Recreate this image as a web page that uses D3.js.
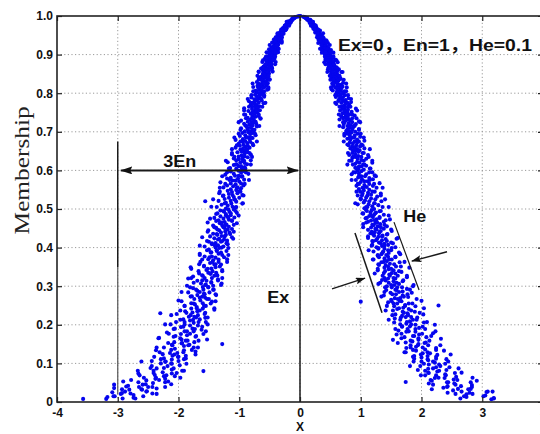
<!doctype html>
<html lang="en">
<head>
<meta charset="utf-8">
<title>Cloud model drops</title>
<script src="https://cdn.jsdelivr.net/npm/d3@7"></script>
<style>
  body { margin: 0; background: #fff; }
  svg { display: block; }
</style>
</head>
<body>
<svg id="chart" width="540" height="434"></svg>
<script>
// axis ticks
var xTicks = [-4, -3, -2, -1, 0, 1, 2, 3, 4];
var xTickLabels = ["-4", "-3", "-2", "-1", "0", "1", "2", "3", "4"];
var yTicks = [0, 0.1, 0.2, 0.3, 0.4, 0.5, 0.6, 0.7, 0.8, 0.9, 1.0];
var yTickLabels = ["0", "0.1", "0.2", "0.3", "0.4", "0.5", "0.6", "0.7", "0.8", "0.9", "1.0"];
var xLabel = "X";
var yLabel = "Membership";
var paramText = "Ex=0，En=1，He=0.1";

// cloud drops, one row per membership level: [membership, x, x, ...]
var dropsTop = [
  [1.000,0.01,-0.01],
  [0.998,0.06],[0.997,0.07],[0.996,0.10],[0.995,0.10,0.12],[0.993,0.11,0.12],[0.990,0.12,0.14,0.17],[0.987,0.15,0.18],[0.985,0.16,0.18,0.21],[0.982,0.19,0.16],[0.980,0.19,0.22,0.20],[0.977,0.19,0.23],[0.975,0.23,0.26],[0.972,0.21,0.24],[0.970,0.27,0.23],[0.967,0.26,0.22],[0.965,0.28,0.25],[0.962,0.28,0.33],[0.960,0.26,0.31],[0.957,0.30,0.25],[0.955,0.32,0.29],[0.952,0.31,0.36],[0.950,0.29,0.35],
  [0.999,-0.03],[0.998,-0.05],[0.997,-0.08],[0.996,-0.09],[0.994,-0.11,-0.10],[0.992,-0.13],[0.991,-0.12],[0.989,-0.15,-0.13],[0.986,-0.16,-0.19],[0.984,-0.17,-0.15],[0.983,-0.20],[0.981,-0.18,-0.21],[0.979,-0.19,-0.17],[0.978,-0.23],[0.976,-0.22,-0.20],[0.974,-0.25],[0.973,-0.22],[0.971,-0.26,-0.24],[0.969,-0.28],[0.968,-0.22],[0.966,-0.26,-0.29],[0.964,-0.27],[0.963,-0.24],[0.961,-0.30,-0.27],[0.959,-0.32],[0.958,-0.28],[0.956,-0.34,-0.30],[0.954,-0.27],[0.953,-0.33],[0.951,-0.30,-0.37],[0.949,-0.32],
  [0.948,0.33,0.30],[0.945,0.36,0.33],[0.942,0.39,0.30],[0.940,0.36,0.33],[0.937,0.43,0.31],[0.935,0.39,0.36],[0.932,0.41,0.34],[0.930,0.46,0.30],[0.927,0.40,0.37],[0.925,0.42,0.36],[0.922,0.40,0.37],[0.920,0.44,0.40],[0.917,0.47,0.37],[0.915,0.43,0.40],[0.912,0.51,0.36],[0.910,0.46,0.43],[0.907,0.49,0.40],[0.905,0.55,0.36],[0.902,0.46,0.44],[0.900,0.49,0.41],
  [0.947,-0.36,-0.33],[0.944,-0.39,-0.30],[0.941,-0.36,-0.33],[0.939,-0.43,-0.31],[0.936,-0.39,-0.36],[0.934,-0.41,-0.34],[0.931,-0.46,-0.30],[0.929,-0.40,-0.37],[0.926,-0.42,-0.36],[0.924,-0.40,-0.37],[0.921,-0.44,-0.40],[0.919,-0.47,-0.37],[0.916,-0.43,-0.40],[0.914,-0.51,-0.36],[0.911,-0.46,-0.43],[0.909,-0.49,-0.40],[0.906,-0.55,-0.36],[0.904,-0.46,-0.44],[0.901,-0.49,-0.41],[0.899,-0.46,-0.43],
  [0.898,0.46,0.43],[0.895,0.51,0.46],[0.892,0.54,0.42],[0.890,0.50,0.46],[0.887,0.58,0.42],[0.885,0.52,0.49],[0.882,0.55,0.46],[0.880,0.62,0.40],[0.877,0.52,0.49],[0.875,0.55,0.47],[0.872,0.52,0.49],[0.870,0.57,0.51],[0.867,0.60,0.47],[0.865,0.56,0.51],[0.862,0.64,0.46],[0.860,0.58,0.54],[0.857,0.61,0.51],[0.855,0.68,0.45],[0.852,0.58,0.54],[0.850,0.61,0.51],
  [0.897,-0.51,-0.46],[0.894,-0.54,-0.42],[0.891,-0.50,-0.46],[0.889,-0.58,-0.42],[0.886,-0.52,-0.49],[0.884,-0.55,-0.46],[0.881,-0.62,-0.40],[0.879,-0.52,-0.49],[0.876,-0.55,-0.47],[0.874,-0.52,-0.49],[0.871,-0.57,-0.51],[0.869,-0.60,-0.47],[0.866,-0.56,-0.51],[0.864,-0.64,-0.46],[0.861,-0.58,-0.54],[0.859,-0.61,-0.51],[0.856,-0.68,-0.45],[0.854,-0.58,-0.54],[0.851,-0.61,-0.51],[0.849,-0.55,-0.57],
  [0.848,0.55,0.57],[0.845,0.61,0.54],[0.842,0.52,0.63],[0.840,0.66,0.57],[0.837,0.60,0.67],[0.835,0.50,0.53],[0.832,0.63,0.62],[0.830,0.56,0.58],[0.827,0.71,0.61],[0.825,0.61,0.53],[0.822,0.68,0.66],[0.820,0.55,0.62],[0.817,0.64,0.70],[0.815,0.77,0.58],[0.812,0.61,0.66],[0.810,0.67,0.52],[0.807,0.54,0.67],[0.805,0.73,0.63],[0.802,0.64,0.71],[0.800,0.71,0.60],
  [0.847,-0.61,-0.54],[0.844,-0.52,-0.63],[0.841,-0.66,-0.57],[0.839,-0.60,-0.67],[0.836,-0.50,-0.53],[0.834,-0.63,-0.62],[0.831,-0.56,-0.58],[0.829,-0.71,-0.61],[0.826,-0.61,-0.53],[0.824,-0.68,-0.66],[0.821,-0.55,-0.62],[0.819,-0.64,-0.70],[0.816,-0.77,-0.58],[0.814,-0.61,-0.66],[0.811,-0.67,-0.52],[0.809,-0.54,-0.67],[0.806,-0.73,-0.63],[0.804,-0.64,-0.71],[0.801,-0.71,-0.60],[0.799,-0.67,-0.61],
  [0.995,0.09,0.12,-0.12,-0.09],[0.985,0.21,0.16,-0.16,-0.22],[0.975,0.18,0.25,-0.25,-0.18],[0.965,0.30,0.24,-0.23,-0.31],[0.955,0.38,0.29,-0.37,-0.29],[0.945,0.28,0.38,-0.30,-0.40],[0.935,0.44,0.33,-0.41,-0.30],[0.925,0.35,0.49,-0.38,-0.50],[0.915,0.45,0.33,-0.35,-0.46],[0.905,0.52,0.42,-0.52,-0.40],
  [0.895,0.41,0.55,-0.56,-0.41],[0.885,0.60,0.46,-0.45,-0.61],[0.875,0.42,0.56,-0.57,-0.41],[0.865,0.61,0.48,-0.46,-0.62],[0.855,0.70,0.54,-0.68,-0.54],[0.845,0.49,0.65,-0.52,-0.70],[0.835,0.72,0.55,-0.68,-0.50],[0.825,0.55,0.76,-0.59,-0.78],[0.815,0.68,0.51,-0.52,-0.69],[0.805,0.76,0.61,-0.77,-0.59]
];

var dropsMid = [
  [0.797,0.67],[0.795,0.61,0.74],[0.792,0.66],[0.790,0.71,0.59],[0.787,0.80],[0.785,0.69,0.65],[0.782,0.75],[0.780,0.63,0.71],[0.777,0.84],[0.775,0.68,0.75],[0.772,0.60],[0.770,0.74,0.81],[0.767,0.71],[0.765,0.67,0.79],[0.762,0.74],[0.760,0.92,0.70],[0.757,0.79],[0.755,0.66,0.74],[0.752,0.85],[0.750,0.73,0.78],
  [0.796,-0.61,-0.74],[0.794,-0.66],[0.791,-0.71,-0.59],[0.789,-0.80],[0.786,-0.69,-0.65],[0.784,-0.75],[0.781,-0.63,-0.71],[0.779,-0.84],[0.776,-0.68,-0.75],[0.774,-0.60],[0.771,-0.74,-0.81],[0.769,-0.71],[0.766,-0.67,-0.79],[0.764,-0.74],[0.761,-0.92,-0.70],[0.759,-0.79],[0.756,-0.66,-0.74],[0.754,-0.85],[0.751,-0.73,-0.78],[0.749,-0.70],
  [0.748,0.70],[0.745,0.81,0.75],[0.742,0.90],[0.740,0.68,0.78],[0.737,0.73],[0.735,0.86,0.79],[0.732,0.65],[0.730,0.82,0.76],[0.727,0.97],[0.725,0.73,0.86],[0.722,0.80],[0.720,0.92,0.72],[0.717,0.83],[0.715,0.78,0.90],[0.712,0.71],[0.710,0.87,0.81],[0.707,0.97],[0.705,0.78,0.86],[0.702,0.76],[0.700,0.91,0.82],
  [0.747,-0.81,-0.75],[0.744,-0.90],[0.741,-0.68,-0.78],[0.739,-0.73],[0.736,-0.86,-0.79],[0.734,-0.65],[0.731,-0.82,-0.76],[0.729,-0.97],[0.726,-0.73,-0.86],[0.724,-0.80],[0.721,-0.92,-0.72],[0.719,-0.83],[0.716,-0.78,-0.90],[0.714,-0.71],[0.711,-0.87,-0.81],[0.709,-0.97],[0.706,-0.78,-0.86],[0.704,-0.76],[0.701,-0.91,-0.82],[0.699,-0.85],
  [0.698,0.85],[0.695,0.78,0.95],[0.692,0.82],[0.690,0.90,0.73],[0.687,0.99],[0.685,0.85,0.89],[0.682,0.78],[0.680,0.94,0.83],[0.677,1.06],[0.675,0.90],[0.672,0.82,0.94],[0.670,0.87],[0.667,1.01,0.78],[0.665,0.93],[0.662,0.86,0.99],[0.660,0.90],[0.657,1.06,0.83],[0.655,0.94],[0.652,0.87,0.98],[0.650,0.91],
  [0.697,-0.78,-0.95],[0.694,-0.82],[0.691,-0.90,-0.73],[0.689,-0.99],[0.686,-0.85,-0.89],[0.684,-0.78],[0.681,-0.94,-0.83],[0.679,-1.06],[0.676,-0.90],[0.674,-0.82,-0.94],[0.671,-0.87],[0.669,-1.01,-0.78],[0.666,-0.93],[0.664,-0.86,-0.99],[0.661,-0.90],[0.659,-1.06,-0.83],[0.656,-0.94],[0.654,-0.87,-0.98],[0.651,-0.91],[0.649,-0.96],
  [0.648,0.96],[0.645,0.86,1.03],[0.642,0.91],[0.640,1.12,0.81],[0.637,0.96],[0.635,0.91,1.01],[0.632,0.86],[0.630,1.09,0.95],[0.627,1.01],[0.625,0.81,1.05],[0.622,0.94],[0.620,0.98,1.19],[0.617,0.91],[0.615,1.04,0.87],[0.612,1.09],[0.610,0.97,1.01],[0.607,0.91],[0.605,1.15,0.96],[0.602,1.05],[0.600,0.95],
  [0.647,-0.86,-1.03],[0.644,-0.91],[0.641,-1.12,-0.81],[0.639,-0.96],[0.636,-0.91,-1.01],[0.634,-0.86],[0.631,-1.09,-0.95],[0.629,-1.01],[0.626,-0.81,-1.05],[0.624,-0.94],[0.621,-0.98,-1.19],[0.619,-0.91],[0.616,-1.04,-0.87],[0.614,-1.09],[0.611,-0.97,-1.01],[0.609,-0.91],[0.606,-1.15,-0.96],[0.604,-1.05],[0.601,-0.95],[0.599,-1.01],
  [0.598,1.01],[0.595,0.91,1.14],[0.592,0.97],[0.590,1.09,0.85],[0.587,1.23],[0.585,1.01,1.07],[0.582,0.96],[0.580,1.14],[0.577,1.02,1.20],[0.575,0.92],[0.572,1.11,1.06],[0.570,1.00],[0.567,1.31],[0.565,0.97,1.14],[0.562,1.06],[0.560,1.20,0.93],[0.557,1.10],[0.555,1.03,1.26],[0.552,0.97],[0.550,1.14],
  [0.597,-0.91,-1.14],[0.594,-0.97],[0.591,-1.09,-0.85],[0.589,-1.23],[0.586,-1.01,-1.07],[0.584,-0.96],[0.581,-1.14],[0.579,-1.02,-1.20],[0.576,-0.92],[0.574,-1.11,-1.06],[0.571,-1.00],[0.569,-1.31],[0.566,-0.97,-1.14],[0.564,-1.06],[0.561,-1.20,-0.93],[0.559,-1.10],[0.556,-1.03,-1.26],[0.554,-0.97],[0.551,-1.14],[0.549,-1.05],
  [0.548,1.05],[0.545,1.19,0.99],[0.542,1.12],[0.540,1.33,1.03],[0.537,1.17],[0.535,0.95,1.11],[0.532,1.27],[0.530,1.09],[0.527,1.17,1.00],[0.525,1.24],[0.522,1.07],[0.520,1.14,1.34],[0.517,1.05],[0.515,1.22],[0.512,1.13,0.95],[0.510,1.29],[0.507,1.19],[0.505,1.11,1.46],[0.502,1.06],[0.500,1.22],
  [0.547,-1.19,-0.99],[0.544,-1.12],[0.541,-1.33,-1.03],[0.539,-1.17],[0.536,-0.95,-1.11],[0.534,-1.27],[0.531,-1.09],[0.529,-1.17,-1.00],[0.526,-1.24],[0.524,-1.07],[0.521,-1.14,-1.34],[0.519,-1.05],[0.516,-1.22],[0.514,-1.13,-0.95],[0.511,-1.29],[0.509,-1.19],[0.506,-1.11,-1.46],[0.504,-1.06],[0.501,-1.22],[0.499,-1.18,-1.09],
  [0.795,0.58,0.79,-0.80,-0.59],[0.785,0.84,0.65,-0.64,-0.86],[0.775,0.58,0.78,-0.79,-0.57],[0.765,0.83,0.65,-0.62,-0.84],[0.755,0.94,0.73,-0.92,-0.72],[0.745,0.64,0.86,-0.68,-0.92],[0.735,0.93,0.71,-0.89,-0.65],[0.725,0.71,0.99,-0.76,-1.01],[0.715,0.88,0.65,-0.67,-0.88],[0.705,0.97,0.78,-0.98,-0.75],
  [0.695,0.73,1.00,-1.01,-0.74],[0.685,1.05,0.82,-0.80,-1.08],[0.675,0.72,0.97,-0.98,-0.71],[0.665,1.03,0.80,-0.77,-1.04],[0.655,1.15,0.89,-1.12,-0.88],[0.645,0.79,1.05,-0.83,-1.12],[0.635,1.13,0.87,-1.08,-0.79],[0.625,0.85,1.19,-0.92,-1.22],[0.615,1.06,0.78,-0.81,-1.06],[0.605,1.16,0.93,-1.17,-0.90],
  [0.595,0.88,1.19,-1.20,-0.89],[0.585,1.25,0.97,-0.95,-1.28],[0.575,0.85,1.15,-1.16,-0.84],[0.565,1.22,0.95,-0.91,-1.23],[0.555,1.36,1.05,-1.32,-1.04],[0.545,0.93,1.23,-0.98,-1.32],[0.535,1.33,1.02,-1.26,-0.93],[0.525,1.00,1.40,-1.08,-1.43],[0.515,1.23,0.91,-0.94,-1.24],[0.505,1.36,1.09,-1.37,-1.05]
];

var dropsLow = [
  [0.497,1.18,1.09],[0.494,1.31],[0.491,1.16,1.25],[0.488,1.04],[0.485,1.38,1.22],[0.482,1.14],[0.479,1.31,1.20],[0.476,1.08],[0.473,1.48,1.26],[0.470,1.17],[0.467,1.38,1.12],[0.464,1.24],[0.461,1.32,1.04],[0.458,1.21],[0.455,1.43,1.28],[0.452,1.17],[0.449,1.38,1.24],[0.446,1.12],[0.443,1.33,1.51],[0.440,1.23],[0.437,1.30,1.16],[0.434,1.43],[0.431,1.22,1.36],[0.428,1.29],[0.425,1.61,1.12],[0.422,1.41],[0.419,1.25,1.35],[0.416,1.20],[0.413,1.50,1.30],[0.410,1.39],[0.407,1.19,1.45],[0.404,1.35],[0.401,1.26,1.57],
  [0.496,-1.31],[0.493,-1.16,-1.25],[0.490,-1.04],[0.487,-1.38,-1.22],[0.484,-1.14],[0.481,-1.31,-1.20],[0.478,-1.08],[0.475,-1.48,-1.26],[0.472,-1.17],[0.469,-1.38,-1.12],[0.466,-1.24],[0.463,-1.32,-1.04],[0.460,-1.21],[0.457,-1.43,-1.28],[0.454,-1.17],[0.451,-1.38,-1.24],[0.448,-1.12],[0.445,-1.33,-1.51],[0.442,-1.23],[0.439,-1.30,-1.16],[0.436,-1.43],[0.433,-1.22,-1.36],[0.430,-1.29],[0.427,-1.61,-1.12],[0.424,-1.41],[0.421,-1.25,-1.35],[0.418,-1.20],[0.415,-1.50,-1.30],[0.412,-1.39],[0.409,-1.19,-1.45],[0.406,-1.35],[0.403,-1.26,-1.57],[0.400,-1.39,-1.29],
  [0.397,1.39,1.29],[0.393,1.50],[0.390,1.21,1.37],[0.386,1.46],[0.383,1.34,1.65],[0.379,1.28],[0.376,1.45,1.57],[0.372,1.39],[0.369,1.20,1.51],[0.365,1.43],[0.362,1.34,1.64],[0.358,1.48],[0.355,1.30,1.41],[0.351,1.58],[0.348,1.80,1.39],[0.344,1.46],[0.341,1.28,1.54],[0.337,1.67],[0.334,1.38,1.51],[0.330,1.47],[0.327,1.61,1.36],[0.323,1.76],[0.320,1.45,1.57],[0.316,1.35],[0.313,1.54,1.69],[0.309,1.46],[0.306,1.63,1.29],[0.303,1.55],[0.300,1.43,1.86],
  [0.395,-1.50],[0.391,-1.21,-1.37],[0.388,-1.46],[0.384,-1.34,-1.65],[0.381,-1.28],[0.377,-1.45,-1.57],[0.374,-1.39],[0.370,-1.20,-1.51],[0.367,-1.43],[0.363,-1.34,-1.64],[0.360,-1.48],[0.356,-1.30,-1.41],[0.353,-1.58],[0.349,-1.80,-1.39],[0.346,-1.46],[0.342,-1.28,-1.54],[0.339,-1.67],[0.335,-1.38,-1.51],[0.332,-1.47],[0.328,-1.61,-1.36],[0.325,-1.76],[0.321,-1.45,-1.57],[0.318,-1.35],[0.314,-1.54,-1.69],[0.311,-1.46],[0.307,-1.63,-1.29],[0.304,-1.55],[0.301,-1.43,-1.86],[0.298,-1.60,-1.51],
  [0.297,1.60,1.51],[0.293,1.76],[0.290,1.42,1.59],[0.286,1.69],[0.283,1.49,1.84],[0.279,1.58],[0.276,1.69,1.38],[0.272,1.78],[0.269,1.56,1.65],[0.265,1.50],[0.262,2.00,1.64],[0.258,1.45],[0.255,1.79,1.60],[0.251,1.73],[0.248,1.55,1.90],[0.244,1.70],[0.241,1.60,1.79],[0.237,1.41],[0.234,1.89,1.69],[0.230,1.77],[0.227,1.57,2.03],[0.223,1.68],[0.220,1.83,1.74],[0.216,1.56],[0.213,1.92,1.65],[0.209,1.81],[0.206,2.04,1.55],[0.203,1.75],[0.200,1.90,2.22],
  [0.295,-1.76],[0.291,-1.42,-1.59],[0.288,-1.69],[0.284,-1.49,-1.84],[0.281,-1.58],[0.277,-1.69,-1.38],[0.274,-1.78],[0.270,-1.56,-1.65],[0.267,-1.50],[0.263,-2.00,-1.64],[0.260,-1.45],[0.256,-1.79,-1.60],[0.253,-1.73],[0.249,-1.55,-1.90],[0.246,-1.70],[0.242,-1.60,-1.79],[0.239,-1.41],[0.235,-1.89,-1.69],[0.232,-1.77],[0.228,-1.57,-2.03],[0.225,-1.68],[0.221,-1.83,-1.74],[0.218,-1.56],[0.214,-1.92,-1.65],[0.211,-1.81],[0.207,-2.04,-1.55],[0.205,-1.75],[0.201,-1.90,-2.22],[0.198,-1.81,-1.68],
  [0.196,1.81,1.68],[0.192,1.96],[0.189,1.77,2.06],[0.185,1.62],[0.182,1.90,1.75],[0.178,2.19],[0.175,1.59,1.96],[0.171,1.86],[0.168,2.08,1.72],[0.164,2.32],[0.161,1.53,1.95],[0.157,1.85],[0.154,2.07,1.74],[0.150,1.95],[0.147,1.82,2.11],[0.143,1.91],[0.140,2.24,1.75],[0.136,2.06],[0.133,1.91,2.37],[0.129,1.72],[0.126,2.14,2.02],[0.122,2.26],[0.119,1.88,2.10],[0.115,2.00],[0.112,2.24,1.88],[0.108,2.11],[0.105,2.44,2.00],[0.102,2.22],
  [0.194,-1.96],[0.190,-1.77,-2.06],[0.187,-1.62],[0.183,-1.90,-1.75],[0.180,-2.19],[0.176,-1.59,-1.96],[0.173,-1.86],[0.169,-2.08,-1.72],[0.166,-2.32],[0.162,-1.53,-1.95],[0.159,-1.85],[0.155,-2.07,-1.74],[0.152,-1.95],[0.148,-1.82,-2.11],[0.145,-1.91],[0.141,-2.24,-1.75],[0.138,-2.06],[0.134,-1.91,-2.37],[0.131,-1.72],[0.127,-2.14,-2.02],[0.124,-2.26],[0.120,-1.88,-2.10],[0.117,-2.00],[0.113,-2.24,-1.88],[0.110,-2.11],[0.106,-2.44,-2.00],[0.104,-2.22],[0.100,-2.12,-2.29],
  [0.097,2.12,2.29],[0.093,1.98],[0.090,2.24,2.46],[0.086,2.11],[0.083,2.41,1.94],[0.079,2.26],[0.076,2.11,2.66],[0.072,2.39],[0.069,2.24,2.06],[0.065,2.57],[0.062,2.38,2.22],[0.058,2.53],[0.055,2.17,2.91],[0.051,2.42],[0.048,2.54,2.12],[0.044,2.83],[0.041,2.43,2.65],[0.037,2.36],[0.034,2.81,2.60],[0.030,2.52],[0.027,3.09],[0.024,2.79,2.43],[0.020,2.74],[0.017,3.05],[0.013,2.74],[0.010,3.19],[0.007,3.15],
  [0.095,-1.98],[0.088,-2.24,-2.46],[0.084,-2.11],[0.081,-2.41,-1.94],[0.077,-2.26],[0.074,-2.11,-2.66],[0.070,-2.39],[0.067,-2.24,-2.06],[0.063,-2.57],[0.060,-2.38,-2.22],[0.056,-2.53],[0.053,-2.17,-2.91],[0.049,-2.42],[0.046,-2.54,-2.12],[0.042,-2.83],[0.039,-2.43,-2.65],[0.035,-2.36],[0.032,-2.81,-2.60],[0.028,-2.52],[0.025,-3.09],[0.022,-2.79,-2.43],[0.018,-2.74],[0.015,-3.05],[0.011,-2.74],[0.008,-3.19,-3.57]
];

// second pass over the lower half, where the reference is denser
var dropsLowFill = [
  [0.495,1.10,1.33,-1.26,-1.06],[0.489,1.24,1.03,-1.14,-1.36],[0.483,1.17,1.46,-1.22,-1.01],[0.477,1.31,1.10,-1.41,-1.18],[0.471,1.23,1.41,-1.12,-1.34],[0.465,1.09,1.27,-1.29,-1.52],[0.459,1.39,1.19,-1.09,-1.22],[0.453,1.04,1.33,-1.41,-1.26],[0.447,1.26,1.50,-1.19,-1.36],[0.441,1.31,1.18,-1.52,-1.09],
  [0.435,1.20,1.44,-1.37,-1.15],[0.429,1.35,1.12,-1.24,-1.48],[0.423,1.27,1.59,-1.33,-1.10],[0.417,1.43,1.19,-1.53,-1.28],[0.411,1.33,1.53,-1.21,-1.45],[0.405,1.18,1.39,-1.40,-1.65],[0.399,1.51,1.29,-1.18,-1.33],[0.393,1.13,1.45,-1.53,-1.37],[0.387,1.36,1.63,-1.30,-1.47],[0.381,1.42,1.28,-1.65,-1.18],
  [0.375,1.30,1.57,-1.49,-1.25],[0.369,1.47,1.21,-1.34,-1.61],[0.363,1.38,1.72,-1.44,-1.20],[0.357,1.55,1.29,-1.66,-1.39],[0.351,1.45,1.66,-1.32,-1.58],[0.345,1.28,1.50,-1.52,-1.79],[0.339,1.63,1.40,-1.28,-1.44],[0.333,1.23,1.57,-1.66,-1.48],[0.327,1.48,1.76,-1.41,-1.60],[0.321,1.54,1.39,-1.79,-1.28],
  [0.315,1.41,1.70,-1.61,-1.35],[0.309,1.59,1.32,-1.46,-1.75],[0.303,1.50,1.87,-1.56,-1.30],[0.297,1.68,1.40,-1.81,-1.51],[0.291,1.57,1.81,-1.43,-1.71],[0.285,1.39,1.63,-1.65,-1.95],[0.279,1.77,1.52,-1.39,-1.57],[0.273,1.34,1.71,-1.80,-1.61],[0.267,1.61,1.92,-1.53,-1.74],[0.261,1.67,1.51,-1.95,-1.39],
  [0.255,1.54,1.85,-1.75,-1.47],[0.249,1.73,1.43,-1.58,-1.90],[0.243,1.63,2.04,-1.70,-1.41],[0.237,1.83,1.53,-1.97,-1.65],[0.231,1.71,1.97,-1.56,-1.87],[0.225,1.52,1.78,-1.80,-2.12],[0.219,1.93,1.66,-1.52,-1.71],[0.213,1.46,1.86,-1.97,-1.76],[0.207,1.76,2.09,-1.67,-1.90],[0.201,1.83,1.65,-2.13,-1.52],
  [0.195,1.68,2.02,-1.92,-1.61],[0.189,1.90,1.57,-1.73,-2.08],[0.183,1.79,2.23,-1.86,-1.55],[0.177,2.01,1.67,-2.16,-1.81],[0.171,1.88,2.16,-1.71,-2.05],[0.165,1.67,1.95,-1.97,-2.33],[0.159,2.13,1.82,-1.67,-1.88],[0.153,1.61,2.05,-2.17,-1.94],[0.147,1.94,2.31,-1.84,-2.10],[0.141,2.02,1.82,-2.36,-1.68],
  [0.135,1.86,2.24,-2.12,-1.78],[0.129,2.10,1.74,-1.92,-2.31],[0.123,1.99,2.48,-2.07,-1.72],[0.117,2.24,1.86,-2.40,-2.01],[0.111,2.10,2.41,-1.91,-2.29],[0.105,1.87,2.19,-2.21,-2.61],[0.099,2.39,2.04,-1.87,-2.11],[0.093,1.81,2.31,-2.44,-2.18],[0.087,2.19,2.61,-2.08,-2.36],[0.081,2.29,2.06,-2.67,-1.91],
  [0.075,2.12,2.55,-2.41,-2.03],[0.069,2.40,1.99,-2.20,-2.64],[0.063,2.28,2.84,-2.37,-1.97],[0.057,2.59,2.15,-2.78,-2.32],[0.051,2.44,2.81,-2.22,-2.66],[0.045,2.19,2.56,-2.59,-3.06],[0.039,2.83,2.42,-2.22,-2.50],[0.033,2.17,2.77,-2.93,-2.61],[0.027,2.66,3.17,-2.53,-2.88],[0.021,2.84,2.56,-2.95,-2.36],
  [0.015,2.70,3.02,-3.07,-2.58],[0.009,3.19,2.64,-2.92,-2.71]
];

// stray drops far from the band
var dropsStray = [
  [0.036,-3.06],[0.023,-2.93],[0.040,-2.86],[0.013,-3.17],[0.026,3.07],[0.052,1.74],[0.250,2.28],[0.260,1.00],
  [0.150,-1.28],[0.080,-1.59],[0.320,-1.84],[0.230,-2.30],[0.520,-1.56]
];

var x = d3.scaleLinear().domain([-4, 4]).range([57, 543]);
var y = d3.scaleLinear().domain([0, 1]).range([402, 16]);

var drops = [];
[dropsTop, dropsMid, dropsLow, dropsLowFill, dropsStray].forEach(function(rows) {
  rows.forEach(function(r) {
    for (var i = 1; i < r.length; i++) drops.push({ x: r[i], mu: r[0] });
  });
});

var svg = d3.select("#chart");
svg.append("rect").attr("width", 540).attr("height", 434).attr("fill", "#fff");

var defs = svg.append("defs");
defs.append("marker").attr("id", "head")
    .attr("viewBox", "0 0 12 8").attr("refX", 11.5).attr("refY", 4)
    .attr("markerWidth", 12).attr("markerHeight", 8)
    .attr("markerUnits", "userSpaceOnUse").attr("orient", "auto-start-reverse")
  .append("path").attr("d", "M0,0L12,4L0,8L2,4Z").attr("fill", "#111");
defs.append("marker").attr("id", "headS")
    .attr("viewBox", "0 0 10 7").attr("refX", 9.5).attr("refY", 3.5)
    .attr("markerWidth", 10).attr("markerHeight", 7)
    .attr("markerUnits", "userSpaceOnUse").attr("orient", "auto")
  .append("path").attr("d", "M0,0L10,3.5L0,7L2,3.5Z").attr("fill", "#111");

// dotted grid
var grid = svg.append("g")
    .attr("stroke", "#9a9a9a").attr("stroke-width", 1).attr("stroke-dasharray", "1.2,2.4");
grid.selectAll("line.gx").data(xTicks.slice(1, -1)).enter().append("line")
    .attr("class", "gx")
    .attr("x1", function(d) { return x(d); }).attr("x2", function(d) { return x(d); })
    .attr("y1", y(0)).attr("y2", y(1));
grid.selectAll("line.gy").data(yTicks.slice(1, -1)).enter().append("line")
    .attr("class", "gy")
    .attr("x1", x(-4)).attr("x2", x(4))
    .attr("y1", function(d) { return y(d); }).attr("y2", function(d) { return y(d); });

// drops
svg.append("g").selectAll("circle").data(drops).enter().append("circle")
    .attr("cx", function(d) { return x(d.x); })
    .attr("cy", function(d) { return y(d.mu); })
    .attr("r", 2.05)
    .attr("fill", "#0505ee");

// annotations
function seg(g, x1, m1, x2, m2) {
  return g.append("line")
      .attr("x1", x(x1)).attr("y1", y(m1))
      .attr("x2", x(x2)).attr("y2", y(m2));
}
var notes = svg.append("g").attr("stroke", "#1a1a1a");
seg(notes, 0, 0, 0, 1).attr("stroke-width", 1.5);
seg(notes, -3, 0.675, -3, 0.35).attr("stroke-width", 1.5);
seg(notes, -3, 0.35, -3, 0.02).attr("stroke", "#555").attr("stroke-width", 1.2);
seg(notes, -2.95, 0.6, -0.03, 0.6).attr("stroke-width", 2)
    .attr("marker-start", "url(#head)").attr("marker-end", "url(#head)");
seg(notes, 0.905, 0.438, 1.35, 0.231).attr("stroke-width", 1.5);
seg(notes, 1.547, 0.466, 1.96, 0.290).attr("stroke-width", 1.2);
seg(notes, 0.527, 0.293, 1.07, 0.321).attr("stroke-width", 1.5).attr("marker-end", "url(#headS)");
seg(notes, 2.42, 0.389, 1.84, 0.365).attr("stroke-width", 1.5).attr("marker-end", "url(#headS)");

var noteFont = "Arial, 'Liberation Sans', 'Noto Sans CJK SC', sans-serif";
function note(txt, xv, mu, size, len, anchor) {
  svg.append("text")
      .attr("x", x(xv)).attr("y", y(mu))
      .attr("text-anchor", anchor || "start")
      .attr("font-family", noteFont).attr("font-weight", "bold")
      .attr("font-size", size).attr("fill", "#111")
      .attr("textLength", len).attr("lengthAdjust", "spacingAndGlyphs")
      .text(txt);
}
note("3En", -1.98, 0.609, 16, 33, "middle");
note("Ex", -0.54, 0.256, 17, 22);
note("He", 1.70, 0.466, 17, 23);
note(paramText, 0.625, 0.909, 17, 194);

// axes
function styleAxis(g) {
  g.select(".domain").remove();
  g.attr("color", "#222")
   .attr("font-family", noteFont).attr("font-weight", "bold").attr("font-size", 12);
  g.selectAll("text").attr("fill", "#111");
  g.selectAll(".tick line").attr("stroke-width", 1.2);
}
svg.append("g").attr("transform", "translate(0," + y(0) + ")")
    .call(d3.axisBottom(x).tickValues(xTicks)
      .tickFormat(function(d, i) { return xTickLabels[i]; })
      .tickSize(-5).tickPadding(6))
    .call(styleAxis);
svg.append("g").attr("transform", "translate(" + x(-4) + ",0)")
    .call(d3.axisLeft(y).tickValues(yTicks)
      .tickFormat(function(d, i) { return yTickLabels[i]; })
      .tickSize(-5).tickPadding(4))
    .call(styleAxis);
svg.append("g").attr("transform", "translate(0," + y(1) + ")")
    .call(d3.axisTop(x).tickValues(xTicks).tickFormat("").tickSize(-5))
    .call(styleAxis);
svg.append("g").attr("transform", "translate(" + x(4) + ",0)")
    .call(d3.axisRight(y).tickValues(yTicks).tickFormat("").tickSize(-5))
    .call(styleAxis);

svg.append("rect")
    .attr("x", x(-4)).attr("y", y(1))
    .attr("width", x(4) - x(-4)).attr("height", y(0) - y(1))
    .attr("fill", "none").attr("stroke", "#222").attr("stroke-width", 1.6);

// axis titles
svg.append("text")
    .attr("x", x(0)).attr("y", 431)
    .attr("text-anchor", "middle")
    .attr("font-family", noteFont).attr("font-weight", "bold").attr("font-size", 12)
    .attr("fill", "#111")
    .text(xLabel);
svg.append("text")
    .attr("transform", "translate(29," + y(0.6) + ") rotate(-90)")
    .attr("text-anchor", "middle")
    .attr("font-family", "'Liberation Serif', 'Times New Roman', serif").attr("font-size", 22)
    .attr("fill", "#222")
    .attr("textLength", 128).attr("lengthAdjust", "spacingAndGlyphs")
    .text(yLabel);
</script>
</body>
</html>
